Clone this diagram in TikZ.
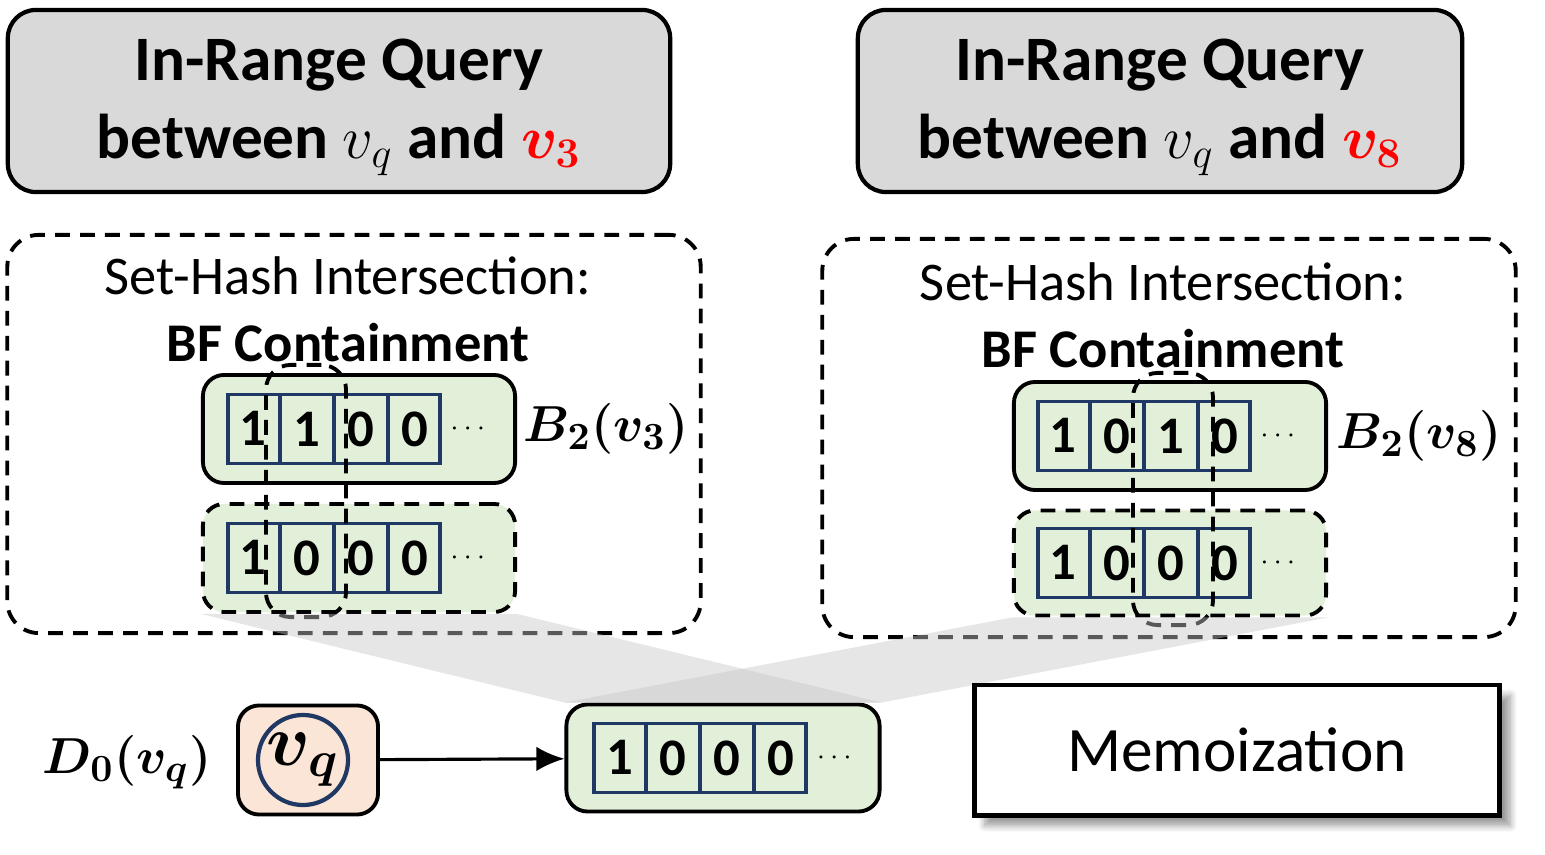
\documentclass[tikz,border=0pt]{standalone}
\usepackage{amsmath}
\usepackage{amssymb}
\usepackage{fontspec}
\setmainfont{Carlito}
\usepackage{xcolor}
\usepackage{tikz}
\usetikzlibrary{arrows.meta,positioning,shapes.multipart,shadows.blur}

\definecolor{titlegray}{HTML}{D9D9D9}
\definecolor{bfgreen}{HTML}{E2F0D9}
\definecolor{qpeach}{HTML}{FBE5D6}
\definecolor{cellnavy}{HTML}{1F3864}

\begin{document}
\begin{tikzpicture}[
      x=0.01cm, y=-0.01cm,
      % Reusable styles for the boxes
      titlebox/.style={
        draw=black,
        fill=titlegray,
        line width=1.2pt,
        rounded corners=8pt,
        align=center,
        minimum height=1.82cm,
        font=\bfseries\fontsize{18}{22}\selectfont
      },
      groupbox/.style={
        draw=black,
        dash pattern=on 4.2pt off 2.9pt,
        line width=1.1pt,
        rounded corners=9pt,
        minimum width=6.93cm,
        minimum height=3.98cm
      },
      bfbox/.style={
        draw=black,
        fill=bfgreen,
        line width=1.1pt,
        rounded corners=6pt,
        minimum width=3.12cm,
        minimum height=1.08cm
      },
      bfdash/.style={bfbox, dash pattern=on 4.2pt off 2.9pt},
      bits/.style={
        rectangle split,
        rectangle split horizontal,
        rectangle split parts=4,
        draw=cellnavy,
        line width=1.1pt,
        text width=0.3cm,
        align=center,
        inner xsep=0.1cm,
        inner ysep=0.17cm,
        text height=0.33cm,
        text depth=0cm,
        font=\bfseries\fontsize{15}{18}\selectfont
      },
      more/.style={inner sep=0pt, font=\fontsize{8.5}{10}\selectfont},
      colbox/.style={
        draw=black,
        dash pattern=on 4.2pt off 2.9pt,
        line width=1.1pt,
        rounded corners=7pt,
        minimum width=0.8cm,
        minimum height=2.52cm
      },
      mathlab/.style={inner sep=0pt, font=\fontsize{15.3}{18}\selectfont},
      proj/.style={fill=black!22, fill opacity=0.45, draw=none},
      arrow/.style={-{Latex[length=8pt,width=7pt]}, line width=0.9pt}
    ]
    \useasboundingbox (0,0) rectangle (1545,855);

    % Query headers
    \node[titlebox, minimum width=6.62cm] (titleL) at (339,101)
      {\rule{0pt}{15.5pt}In-Range Query\\between $v_q$ and \textcolor{red}{$\boldsymbol{v_3}$}};
    \node[titlebox, minimum width=6.04cm] (titleR) at (1160,101)
      {\rule{0pt}{15.5pt}In-Range Query\\between $v_q$ and \textcolor{red}{$\boldsymbol{v_8}$}};

    % Dashed intersection groups
    \node[groupbox] (groupL) at (354,434) {};
    \node[groupbox] (groupR) at (1169,438) {};
    \node[align=center, font=\fontsize{15.5}{19}\selectfont] (setL) at (348,309)
      {Set-Hash Intersection:\\\textbf{BF Containment}};
    \node[align=center, font=\fontsize{15.5}{19}\selectfont] (setR) at (1163,315)
      {Set-Hash Intersection:\\\textbf{BF Containment}};

    % Left: B_2(v_3) against D_0(v_q)
    \node[bfbox] (bfaL) at (359,429) {};
    \node[bfdash] (bfbL) at (359,558) {};
    \node[bits, right=0.25cm of bfaL.west] (bitsaL)
      {1\nodepart{two}1\nodepart{three}0\nodepart{four}0};
    \node[bits, right=0.25cm of bfbL.west] (bitsbL)
      {1\nodepart{two}0\nodepart{three}0\nodepart{four}0};
    \node[more, right=0.08cm of bitsaL] (moreaL) {$\cdots$};
    \node[more, right=0.08cm of bitsbL] (morebL) {$\cdots$};
    \node[colbox] (colL) at (306,491) {};
    \node[mathlab, right=0.06cm of bfaL] (labL) {$\boldsymbol{B_2(v_3)}$};

    % Right: B_2(v_8) against D_0(v_q)
    \node[bfbox] (bfaR) at (1170,436) {};
    \node[bfdash, minimum height=1.05cm] (bfbR) at (1170,563) {};
    \node[bits, right=0.24cm of bfaR.west] (bitsaR)
      {1\nodepart{two}0\nodepart{three}1\nodepart{four}0};
    \node[bits, right=0.24cm of bfbR.west] (bitsbR)
      {1\nodepart{two}0\nodepart{three}0\nodepart{four}0};
    \node[more, right=0.08cm of bitsaR] (moreaR) {$\cdots$};
    \node[more, right=0.08cm of bitsbR] (morebR) {$\cdots$};
    \node[colbox] (colR) at (1173,499) {};
    \node[mathlab, right=0.08cm of bfaR] (labR) {$\boldsymbol{B_2(v_8)}$};

    % Query vertex and its filter
    \node[bfbox, fill=qpeach, minimum width=1.40cm, minimum height=1.09cm] (vq) at (308,760) {};
    \node[circle, draw=cellnavy, line width=1.2pt, minimum size=0.9cm, inner sep=0pt,
      font=\fontsize{21}{24}\selectfont] (vqc) at (303,760) {$\boldsymbol{v_q}$};
    \node[mathlab] (d0) at (127,762) {$\boldsymbol{D_0(v_q)}$};
    \node[bfbox, minimum width=3.13cm, minimum height=1.07cm] (bfq) at (723,758) {};
    \node[bits, right=0.28cm of bfq.west] (bitsq)
      {1\nodepart{two}0\nodepart{three}0\nodepart{four}0};
    \node[more, right=0.08cm of bitsq] (moreq) {$\cdots$};

    % Projections onto the shared filter
    \fill[proj] (bfbL.south west) -- (bfbL.south east) -- (bfq.north east) -- (bfq.north west) -- cycle;
    \fill[proj] (bfbR.south west) -- (bfbR.south east) -- (bfq.north east) -- (bfq.north west) -- cycle;

    \draw[arrow] (vq) -- (bfq);

    \node[draw=black, fill=white, line width=1.4pt, minimum width=5.25cm, minimum height=1.30cm,
      blur shadow={shadow xshift=3pt, shadow yshift=-3pt, shadow blur steps=8},
      font=\fontsize{18}{22}\selectfont] (memo) at (1237,750) {Memoization};
  \end{tikzpicture}
\end{document}
